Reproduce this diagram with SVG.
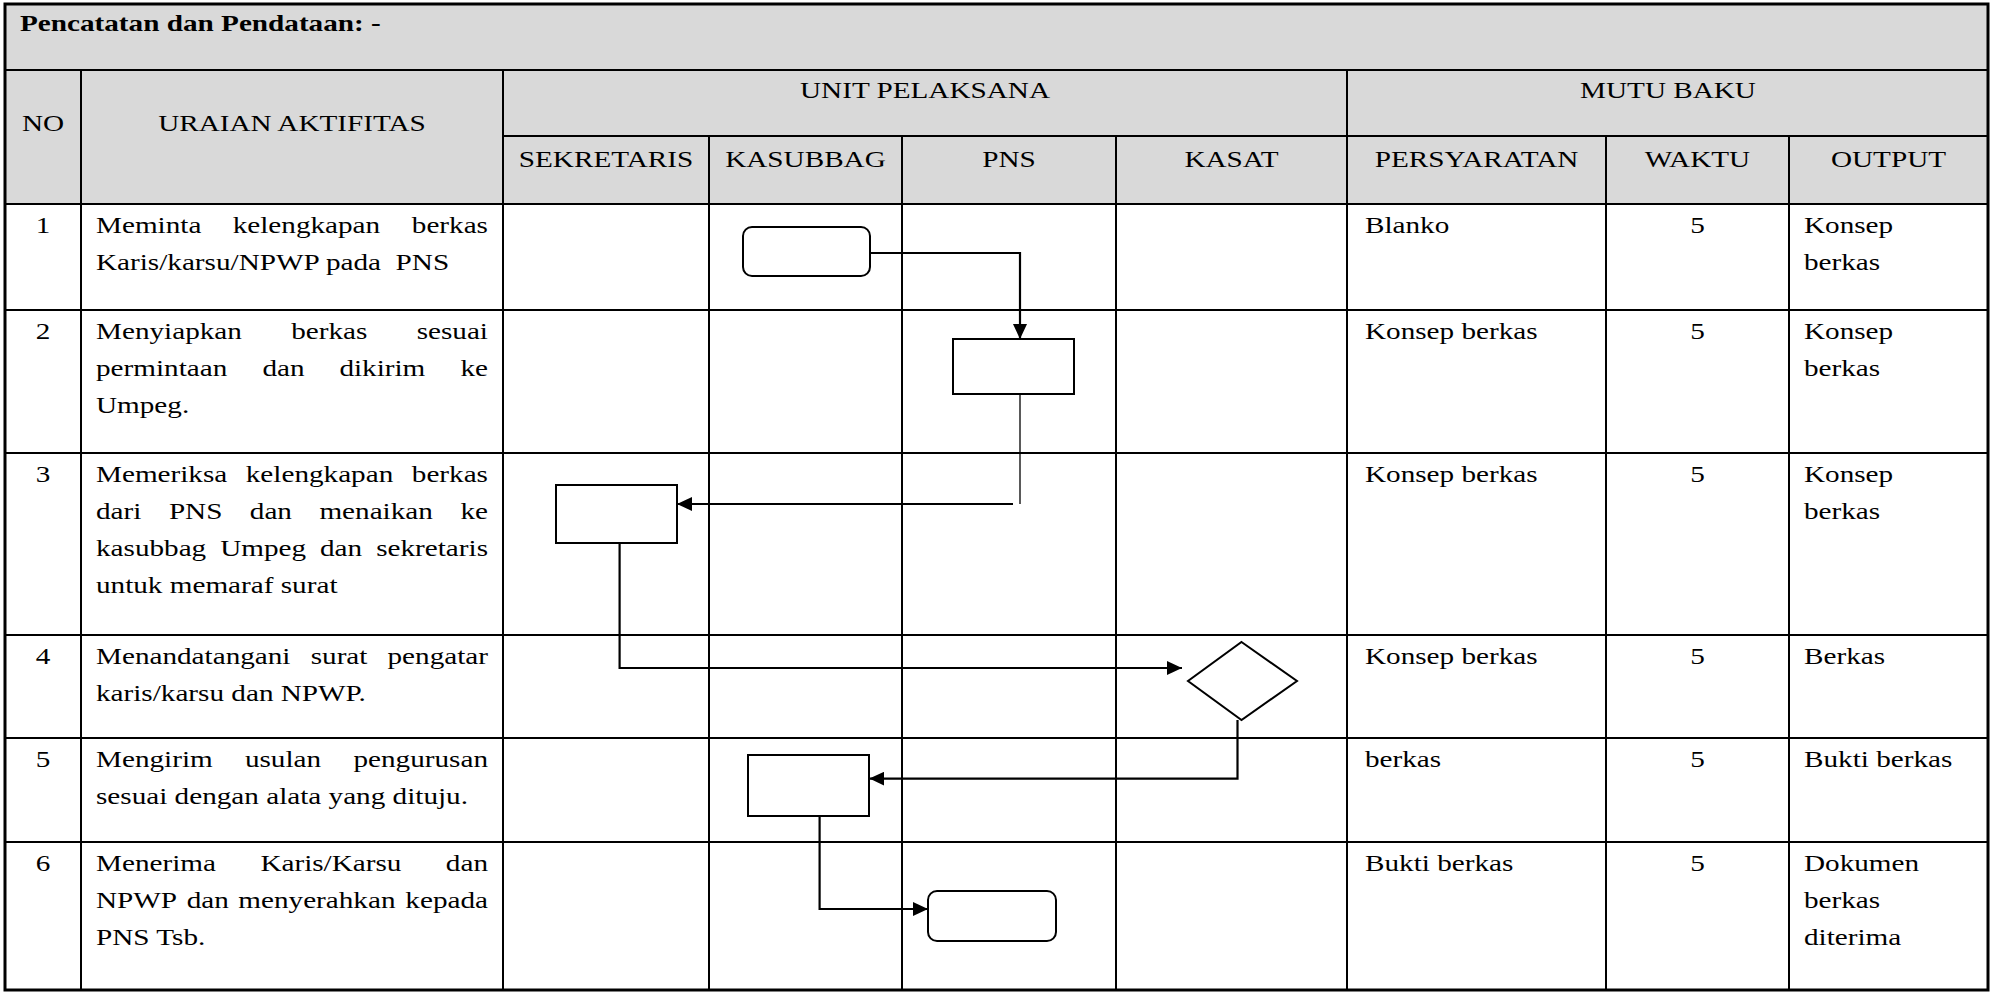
<svg xmlns="http://www.w3.org/2000/svg" width="1997" height="995" viewBox="0 0 1997 995">
<style>
  .t { font-family: "Liberation Serif", "Times New Roman", serif; font-size: 23px; fill: #000; }
  .b { font-weight: bold; }
  .m { text-anchor: middle; }
  .grid { stroke: #000; stroke-width: 2; fill: none; }
  .node { fill: #fff; stroke: #000; stroke-width: 2; }
  .conn { fill: none; stroke: #000; stroke-width: 2.2; }
  .thin { fill: none; stroke: #000; stroke-width: 1.3; }
</style>
<defs>
  <marker id="arr" markerUnits="userSpaceOnUse" viewBox="0 0 16 14" markerWidth="16" markerHeight="14" refX="15" refY="7" orient="auto">
    <path d="M0,0 L15,7 L0,14 z" fill="#000"/>
  </marker>
</defs>
<rect x="0" y="0" width="1997" height="995" fill="#fff"/>
<g id="table">
  <rect x="5" y="4" width="1983" height="200" fill="#d9d9d9"/>
  <g class="grid">
    <line x1="5" y1="70" x2="1988" y2="70"/>
    <line x1="503" y1="136" x2="1988" y2="136"/>
    <line x1="5" y1="204" x2="1988" y2="204"/>
    <line x1="5" y1="310" x2="1988" y2="310"/>
    <line x1="5" y1="453" x2="1988" y2="453"/>
    <line x1="5" y1="635" x2="1988" y2="635"/>
    <line x1="5" y1="738" x2="1988" y2="738"/>
    <line x1="5" y1="842" x2="1988" y2="842"/>
    <line x1="81" y1="70" x2="81" y2="990"/>
    <line x1="503" y1="70" x2="503" y2="990"/>
    <line x1="709" y1="136" x2="709" y2="990"/>
    <line x1="902" y1="136" x2="902" y2="990"/>
    <line x1="1116" y1="136" x2="1116" y2="990"/>
    <line x1="1347" y1="70" x2="1347" y2="990"/>
    <line x1="1606" y1="136" x2="1606" y2="990"/>
    <line x1="1789" y1="136" x2="1789" y2="990"/>
  </g>
  <rect x="5" y="4" width="1983" height="986" fill="none" stroke="#000" stroke-width="3"/>
</g>
<g id="texts" transform="scale(1.27 1)">
  <text class="t b" x="15.75" y="31">Pencatatan dan Pendataan: -</text>
  <text class="t m" x="33.86" y="131">NO</text>
  <text class="t m" x="229.92" y="131">URAIAN AKTIFITAS</text>
  <text class="t m" x="728.35" y="98">UNIT PELAKSANA</text>
  <text class="t m" x="1313.39" y="98">MUTU BAKU</text>
  <text class="t m" x="477.17" y="167">SEKRETARIS</text>
  <text class="t m" x="634.25" y="167">KASUBBAG</text>
  <text class="t m" x="794.49" y="167">PNS</text>
  <text class="t m" x="969.69" y="167">KASAT</text>
  <text class="t m" x="1162.60" y="167">PERSYARATAN</text>
  <text class="t m" x="1336.61" y="167">WAKTU</text>
  <text class="t m" x="1487.01" y="167">OUTPUT</text>

  <text class="t m" x="33.86" y="233">1</text>
  <text class="t m" x="33.86" y="339">2</text>
  <text class="t m" x="33.86" y="482">3</text>
  <text class="t m" x="33.86" y="664">4</text>
  <text class="t m" x="33.86" y="767">5</text>
  <text class="t m" x="33.86" y="871">6</text>

  <text class="t" y="233"><tspan x="75.59">Meminta</tspan><tspan x="183.23">kelengkapan</tspan><tspan x="384.25" text-anchor="end">berkas</tspan></text>
  <text class="t" y="270" x="75.59" xml:space="preserve">Karis/karsu/NPWP pada  PNS</text>

  <text class="t" y="339"><tspan x="75.59">Menyiapkan</tspan><tspan x="229.29">berkas</tspan><tspan x="384.25" text-anchor="end">sesuai</tspan></text>
  <text class="t" y="376"><tspan x="75.59">permintaan</tspan><tspan x="206.61">dan</tspan><tspan x="267.24">dikirim</tspan><tspan x="384.25" text-anchor="end">ke</tspan></text>
  <text class="t" y="413" x="75.59">Umpeg.</text>

  <text class="t" y="482"><tspan x="75.59">Memeriksa</tspan><tspan x="193.54">kelengkapan</tspan><tspan x="384.25" text-anchor="end">berkas</tspan></text>
  <text class="t" y="519"><tspan x="75.59">dari</tspan><tspan x="132.99">PNS</tspan><tspan x="196.69">dan</tspan><tspan x="251.50">menaikan</tspan><tspan x="384.25" text-anchor="end">ke</tspan></text>
  <text class="t" y="556"><tspan x="75.59">kasubbag</tspan><tspan x="173.39">Umpeg</tspan><tspan x="251.97">dan</tspan><tspan x="384.25" text-anchor="end">sekretaris</tspan></text>
  <text class="t" y="593" x="75.59">untuk memaraf surat</text>

  <text class="t" y="664"><tspan x="75.59">Menandatangani</tspan><tspan x="244.65">surat</tspan><tspan x="384.25" text-anchor="end">pengatar</tspan></text>
  <text class="t" y="701" x="75.59">karis/karsu dan NPWP.</text>

  <text class="t" y="767"><tspan x="75.59">Mengirim</tspan><tspan x="192.83">usulan</tspan><tspan x="384.25" text-anchor="end">pengurusan</tspan></text>
  <text class="t" y="804" x="75.59">sesuai dengan alata yang dituju.</text>

  <text class="t" y="871"><tspan x="75.59">Menerima</tspan><tspan x="205.04">Karis/Karsu</tspan><tspan x="384.25" text-anchor="end">dan</tspan></text>
  <text class="t" y="908"><tspan x="75.59">NPWP</tspan><tspan x="147.01">dan</tspan><tspan x="187.64">menyerahkan</tspan><tspan x="384.25" text-anchor="end">kepada</tspan></text>
  <text class="t" y="945" x="75.59">PNS Tsb.</text>

  <text class="t" x="1074.80" y="233">Blanko</text>
  <text class="t" x="1074.80" y="339">Konsep berkas</text>
  <text class="t" x="1074.80" y="482">Konsep berkas</text>
  <text class="t" x="1074.80" y="664">Konsep berkas</text>
  <text class="t" x="1074.80" y="767">berkas</text>
  <text class="t" x="1074.80" y="871">Bukti berkas</text>

  <text class="t m" x="1336.61" y="233">5</text>
  <text class="t m" x="1336.61" y="339">5</text>
  <text class="t m" x="1336.61" y="482">5</text>
  <text class="t m" x="1336.61" y="664">5</text>
  <text class="t m" x="1336.61" y="767">5</text>
  <text class="t m" x="1336.61" y="871">5</text>

  <text class="t" x="1420.47" y="233">Konsep</text>
  <text class="t" x="1420.47" y="270">berkas</text>
  <text class="t" x="1420.47" y="339">Konsep</text>
  <text class="t" x="1420.47" y="376">berkas</text>
  <text class="t" x="1420.47" y="482">Konsep</text>
  <text class="t" x="1420.47" y="519">berkas</text>
  <text class="t" x="1420.47" y="664">Berkas</text>
  <text class="t" x="1420.47" y="767">Bukti berkas</text>
  <text class="t" x="1420.47" y="871">Dokumen</text>
  <text class="t" x="1420.47" y="908">berkas</text>
  <text class="t" x="1420.47" y="945">diterima</text>
</g>
<g id="connectors">
  <path class="conn" d="M870,253 H1020 V339" marker-end="url(#arr)"/>
  <path class="thin" d="M1020,394 V504"/>
  <path class="conn" d="M1013,504 H677" marker-end="url(#arr)"/>
  <path class="conn" d="M619.6,543 V668 H1182" marker-end="url(#arr)"/>
  <path class="conn" d="M1237.5,720 V778.6 H869.4" marker-end="url(#arr)"/>
  <path class="conn" d="M819.6,816 V909 H928" marker-end="url(#arr)"/>
</g>
<g id="n1"><rect class="node" x="743" y="227" width="127" height="49" rx="9"/></g>
<g id="n2"><rect class="node" x="953" y="339" width="121" height="55"/></g>
<g id="n3"><rect class="node" x="556" y="485" width="121" height="58"/></g>
<g id="n4"><polygon class="node" points="1241.5,642 1297,681 1241.5,720 1188,681"/></g>
<g id="n5"><rect class="node" x="748" y="755" width="121" height="61"/></g>
<g id="n6"><rect class="node" x="928" y="891" width="128" height="50" rx="9"/></g>
</svg>
